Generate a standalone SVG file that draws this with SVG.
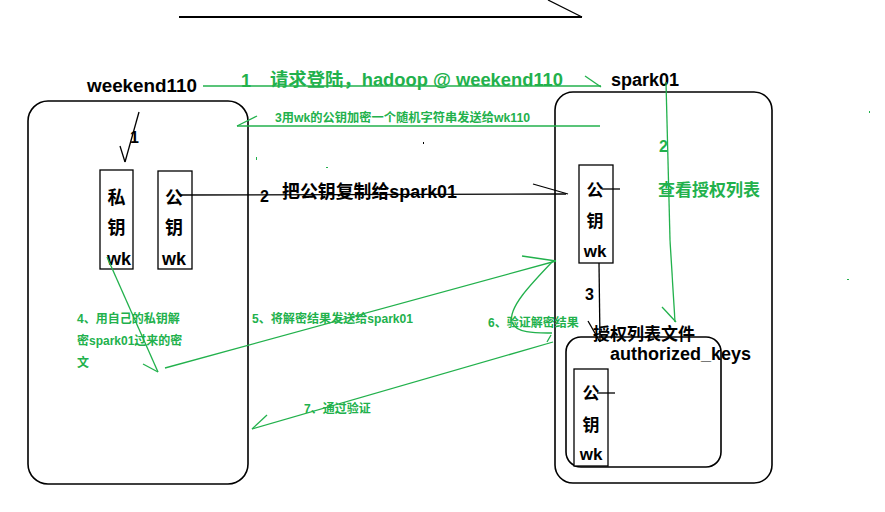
<svg xmlns="http://www.w3.org/2000/svg" width="885" height="512" viewBox="0 0 885 512">
<style>
.b{font-family:"Liberation Sans","Noto Sans CJK SC",sans-serif;font-weight:bold;fill:#000}
.g{font-family:"Liberation Sans","Noto Sans CJK SC",sans-serif;font-weight:bold;fill:#22b14c}
.k{fill:none;stroke:#000;stroke-width:1.3}
.gl{fill:none;stroke:#22b14c;stroke-width:1.3}
.frame{fill:none;stroke:#000;stroke-width:1.6}
.box{fill:#fff;stroke:#000;stroke-width:1.3}
.c{text-anchor:middle}
</style>
<rect width="885" height="512" fill="#fff"/>

<g id="top-stroke">
<line x1="179" y1="17" x2="582" y2="17" stroke="#000" stroke-width="2"/>
<line x1="548" y1="0" x2="582" y2="17" stroke="#000" stroke-width="1.3"/>
</g>

<g id="weekend110">
<rect class="frame" x="28" y="101" width="220" height="383" rx="20"/>
<text class="b" x="87" y="92" font-size="18" textLength="110" lengthAdjust="spacingAndGlyphs">weekend110</text>
</g>

<g id="private-key-wk">
<rect class="box" x="100" y="170" width="33" height="99"/>
<text class="b c" x="116.5" y="204" font-size="18">私</text>
<text class="b c" x="116.5" y="234" font-size="18">钥</text>
<text class="b c" x="119" y="265" font-size="18">wk</text>
</g>

<g id="public-key-wk-left">
<rect class="box" x="158" y="171" width="34" height="98"/>
<text class="b c" x="174" y="204" font-size="18">公</text>
<text class="b c" x="174" y="234" font-size="18">钥</text>
<text class="b c" x="174" y="265" font-size="18">wk</text>
</g>

<g id="spark01">
<rect class="frame" x="555" y="92" width="217" height="391" rx="18"/>
<text class="b" x="611" y="86" font-size="18">spark01</text>
</g>

<g id="public-key-wk-right">
<rect class="box" x="579" y="165" width="34" height="98"/>
<text class="b c" x="595" y="196" font-size="17">公</text>
<text class="b c" x="595" y="227" font-size="17">钥</text>
<text class="b c" x="595" y="257" font-size="17">wk</text>
<line class="k" x1="602" y1="189" x2="620" y2="189"/>
</g>

<g id="authorized-keys">
<rect class="frame" x="566" y="337" width="155" height="130" rx="15" stroke-width="1.3"/>
<text class="b" x="593" y="340" font-size="17">授权列表文件</text>
<text class="b" x="610" y="360" font-size="18">authorized_keys</text>
</g>

<g id="public-key-wk-stored">
<rect class="box" x="574" y="369" width="34" height="97"/>
<text class="b c" x="591" y="399" font-size="17">公</text>
<text class="b c" x="591" y="431" font-size="17">钥</text>
<text class="b c" x="591" y="460" font-size="17">wk</text>
<line class="k" x1="597" y1="393" x2="615" y2="393"/>
</g>

<g id="connectors">
<line class="gl" x1="203" y1="86" x2="601" y2="86"/>
<line class="gl" x1="585" y1="76" x2="601" y2="87"/>
<line class="k" x1="139" y1="112" x2="125" y2="162" stroke-width="1"/>
<line class="k" x1="120" y1="146" x2="125" y2="162" stroke-width="1"/>
<line class="k" x1="180" y1="195" x2="566" y2="194"/>
<line class="k" x1="533" y1="184" x2="568" y2="194"/>
<path class="gl" d="M666,82 L670,240" stroke-width="1.2"/>
<path class="gl" d="M670,240 L675,322" stroke-width="2"/>
<line class="gl" x1="662" y1="307" x2="676" y2="322"/>
<line class="k" x1="599" y1="263" x2="600" y2="342"/>
<line class="k" x1="588" y1="321" x2="600" y2="342"/>
<line class="gl" x1="237" y1="126" x2="600" y2="126"/>
<line class="gl" x1="257" y1="116" x2="237" y2="126"/>
<line class="gl" x1="107" y1="257" x2="158" y2="372"/>
<line class="gl" x1="143" y1="364" x2="158" y2="372"/>
<line class="gl" x1="165" y1="368" x2="556" y2="261"/>
<line class="gl" x1="522" y1="256" x2="556" y2="261"/>
<path class="gl" d="M553,261 C530,285 508,308 512,322 C516,334 538,333 552,333"/>
<line class="gl" x1="551" y1="335" x2="547" y2="342"/>
<line class="gl" x1="553" y1="342" x2="252" y2="429"/>
<line class="gl" x1="267" y1="415" x2="252" y2="429"/>
</g>

<g id="labels">
<text class="g" x="241" y="87" font-size="18">1</text>
<text class="g" x="270" y="86" font-size="18" textLength="293" lengthAdjust="spacingAndGlyphs">请求登陆，hadoop @ weekend110</text>
<text class="g" x="275" y="122" font-size="12" textLength="255" lengthAdjust="spacingAndGlyphs">3用wk的公钥加密一个随机字符串发送给wk110</text>
<text class="b" x="130" y="143" font-size="16">1</text>
<text class="b" x="260" y="202" font-size="16">2</text>
<text class="b" x="282" y="198" font-size="18" textLength="175" lengthAdjust="spacingAndGlyphs">把公钥复制给spark01</text>
<text class="g" x="659" y="152" font-size="16">2</text>
<text class="g" x="658" y="196" font-size="17">查看授权列表</text>
<text class="b" x="585" y="300" font-size="16">3</text>
<text class="g" x="77" y="323" font-size="12">4、用自己的私钥解</text>
<text class="g" x="77" y="345" font-size="12">密spark01过来的密</text>
<text class="g" x="77" y="367" font-size="12">文</text>
<text class="g" x="252" y="323" font-size="12" textLength="161" lengthAdjust="spacingAndGlyphs">5、将解密结果发送给spark01</text>
<text class="g" x="488" y="327" font-size="12">6、验证解密结果</text>
<text class="g" x="304" y="413" font-size="12">7、通过验证</text>
</g>

<g id="specks">
<rect x="256" y="157" width="1" height="3" fill="#22b14c"/>
<rect x="326" y="167" width="2" height="1" fill="#22b14c"/>
<rect x="423" y="142" width="1" height="2" fill="#000"/>
<rect x="869" y="111" width="1" height="2" fill="#22b14c"/>
<rect x="847" y="279" width="2" height="1" fill="#22b14c"/>
</g>
</svg>
